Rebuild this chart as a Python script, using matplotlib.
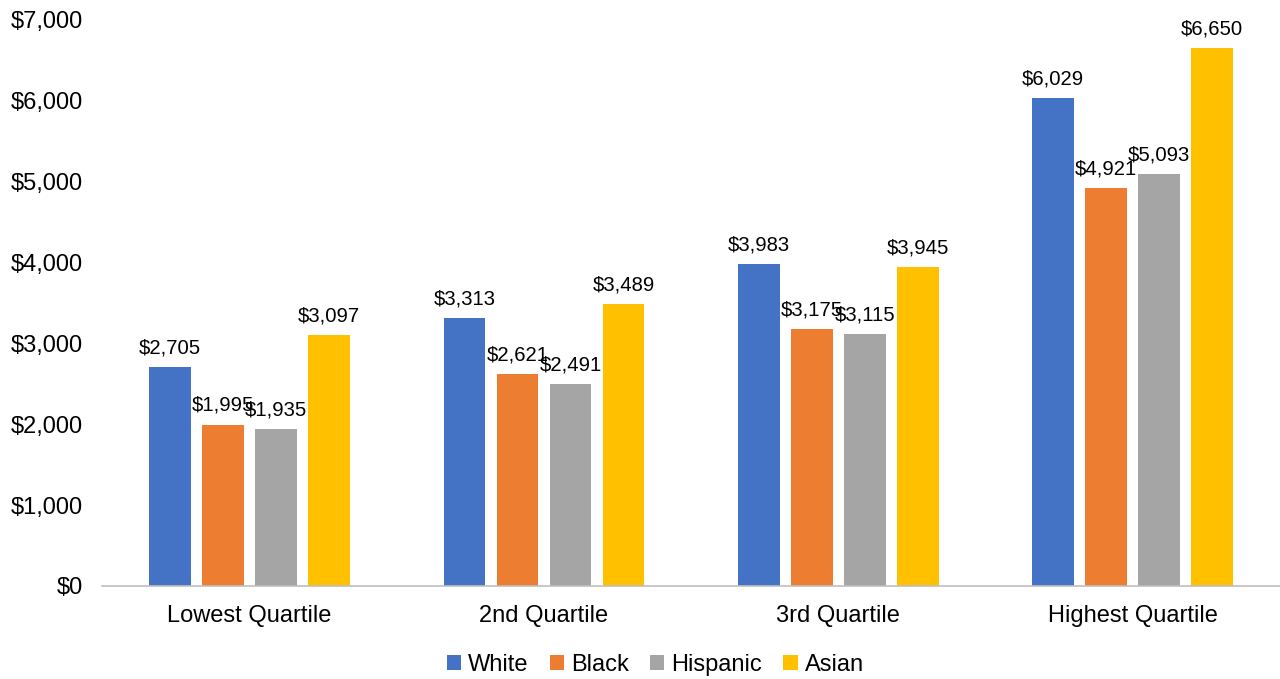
import matplotlib.pyplot as plt
import numpy as np

plt.rcParams['font.family'] = ['Liberation Sans', 'DejaVu Sans']

categories = ["Lowest Quartile", "2nd Quartile", "3rd Quartile", "Highest Quartile"]
series_names = ["White", "Black", "Hispanic", "Asian"]
white = [2705, 3313, 3983, 6029]
black = [1995, 2621, 3175, 4921]
hispanic = [1935, 2491, 3115, 5093]
asian = [3097, 3489, 3945, 6650]
colors = ["#4472C4", "#ED7D31", "#A5A5A5", "#FFC000"]
yticks = [0, 1000, 2000, 3000, 4000, 5000, 6000, 7000]

fig = plt.figure(figsize=(12.8, 6.79), dpi=100)
ax = fig.add_axes([0.08, 0.137, 0.92, 0.834])

x = np.arange(len(categories))
width = 0.142
step = 0.18
for i, (name, vals) in enumerate(zip(series_names, [white, black, hispanic, asian])):
    pos = x + (i - 1.5) * step
    bars = ax.bar(pos, vals, width, color=colors[i], label=name)
    for b, v in zip(bars, vals):
        ax.annotate(f"${v:,}", (b.get_x() + b.get_width() / 2, v),
                    xytext=(0, 7), textcoords="offset points",
                    ha="center", va="bottom", fontsize=14.6)

ax.set_xlim(-0.5, 3.5)
ax.set_ylim(0, 7000)
ax.set_yticks(yticks)
ax.set_yticklabels([f"${t:,}" for t in yticks], fontsize=17)
ax.set_xticks(x)
ax.set_xticklabels(categories, fontsize=17)
ax.tick_params(axis="both", length=0)
ax.tick_params(axis="x", pad=14)
ax.tick_params(axis="y", pad=14)
for s in ["top", "right", "left"]:
    ax.spines[s].set_visible(False)
ax.spines["bottom"].set_color("#BFBFBF")
ax.spines["bottom"].set_linewidth(1.2)

handles, labels = ax.get_legend_handles_labels()
fig.legend(handles, labels, loc="center", bbox_to_anchor=(0.512, 0.021),
           ncol=4, frameon=False, fontsize=17, handlelength=0.6, handleheight=0.6,
           handletextpad=0.3, columnspacing=0.9, borderpad=0)

plt.savefig("out.png", dpi=100)
